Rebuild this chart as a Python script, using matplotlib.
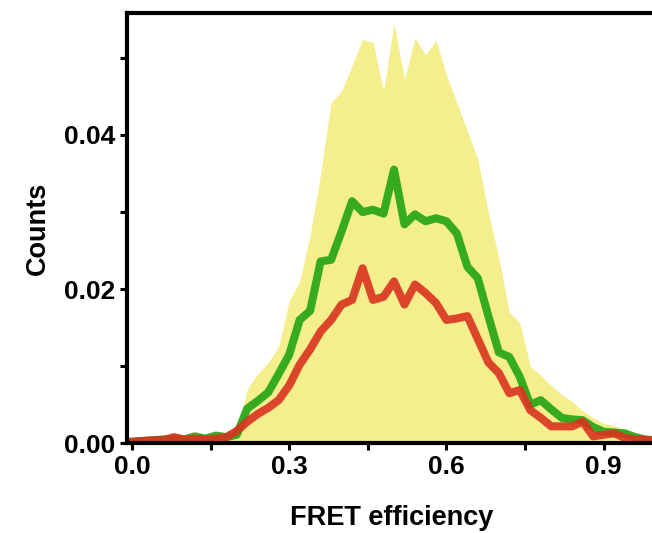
import numpy as np
import matplotlib
matplotlib.use("Agg")
import matplotlib.pyplot as plt

plt.rcParams['font.family'] = ['Liberation Sans', 'DejaVu Sans']

# FRET efficiency bins (0.02 wide)
fret = np.round(np.arange(0, 1.0001, 0.02), 2)

# upper edge of the yellow band
band_hi = [0, 0, 0, 0, 0, 0, 0, 0, 0, 0.0004,
           0.0015, 0.007, 0.009, 0.0105, 0.0125, 0.0185, 0.021, 0.027, 0.035, 0.0442,
           0.0457, 0.049, 0.0524, 0.052, 0.0457, 0.0545, 0.0472, 0.0526, 0.0504, 0.0523,
           0.0478, 0.0442, 0.0405, 0.0368, 0.030, 0.024, 0.017, 0.0156, 0.010, 0.0088,
           0.0075, 0.0063, 0.0054, 0.0042, 0.0033, 0.0026, 0.0023, 0.0017, 0.0011, 0.0008,
           0.0005]

green = [0.0002, 0.0003, 0.0004, 0.0005, 0.0006, 0.0005, 0.0009, 0.0006, 0.001, 0.0008,
         0.0011, 0.0045, 0.0055, 0.0066, 0.009, 0.0115, 0.016, 0.0172, 0.0236, 0.0238,
         0.0275, 0.0314, 0.030, 0.0303, 0.0298, 0.0355, 0.0284, 0.0297, 0.0288, 0.0292,
         0.0288, 0.0272, 0.0229, 0.0214, 0.0165, 0.0118, 0.0112, 0.0086, 0.005, 0.0056,
         0.0044, 0.0033, 0.0031, 0.003, 0.0021, 0.0015, 0.0014, 0.0013, 0.0008, 0.0005,
         0.0004]

red = [0.0002, 0.0003, 0.0004, 0.0004, 0.0008, 0.0005, 0.0006, 0.0005, 0.0006, 0.0008,
       0.0016, 0.0028, 0.0038, 0.0046, 0.0056, 0.0075, 0.0102, 0.0122, 0.0145, 0.016,
       0.018, 0.0186, 0.0227, 0.0186, 0.019, 0.021, 0.018, 0.0206, 0.0195, 0.0182,
       0.016, 0.0162, 0.0165, 0.0135, 0.0105, 0.0091, 0.0065, 0.0069, 0.0043, 0.0033,
       0.0022, 0.0022, 0.0022, 0.0028, 0.0009, 0.0011, 0.0013, 0.0007, 0.0005, 0.0004,
       0.0003]

fig = plt.figure(figsize=(6.52, 5.33), dpi=100)
ax = fig.add_axes([0.1943, 0.1683, 0.812, 0.807])

ax.fill_between(fret, 0, band_hi, color='#f5ee8c', lw=0)
ax.plot(fret, green, color='#2ca81a', lw=5.8, alpha=0.95, solid_joinstyle='round')
ax.plot(fret, red, color='#d9321f', lw=5.8, alpha=0.9, solid_joinstyle='round')

ax.set_xlim(-0.01, 1.0)
ax.set_ylim(0, 0.0558)
ax.set_xticks([0.0, 0.3, 0.6, 0.9])
ax.set_xticks([0.15, 0.45, 0.75], minor=True)
ax.set_yticks([0.0, 0.02, 0.04])
ax.set_yticks([0.01, 0.03, 0.05], minor=True)
ax.set_xticklabels(['0.0', '0.3', '0.6', '0.9'])
ax.set_yticklabels(['0.00', '0.02', '0.04'])

for s in ax.spines.values():
    s.set_linewidth(3)
ax.tick_params(which='both', direction='out', width=2.2, length=5, labelsize=19)
for lab in ax.get_xticklabels() + ax.get_yticklabels():
    lab.set_fontweight('bold')

ax.set_xlabel('FRET efficiency', fontsize=19.5, fontweight='bold', labelpad=19)
ax.set_ylabel('Counts', fontsize=19.5, fontweight='bold', labelpad=9)

fig.savefig('out.png', dpi=100)
